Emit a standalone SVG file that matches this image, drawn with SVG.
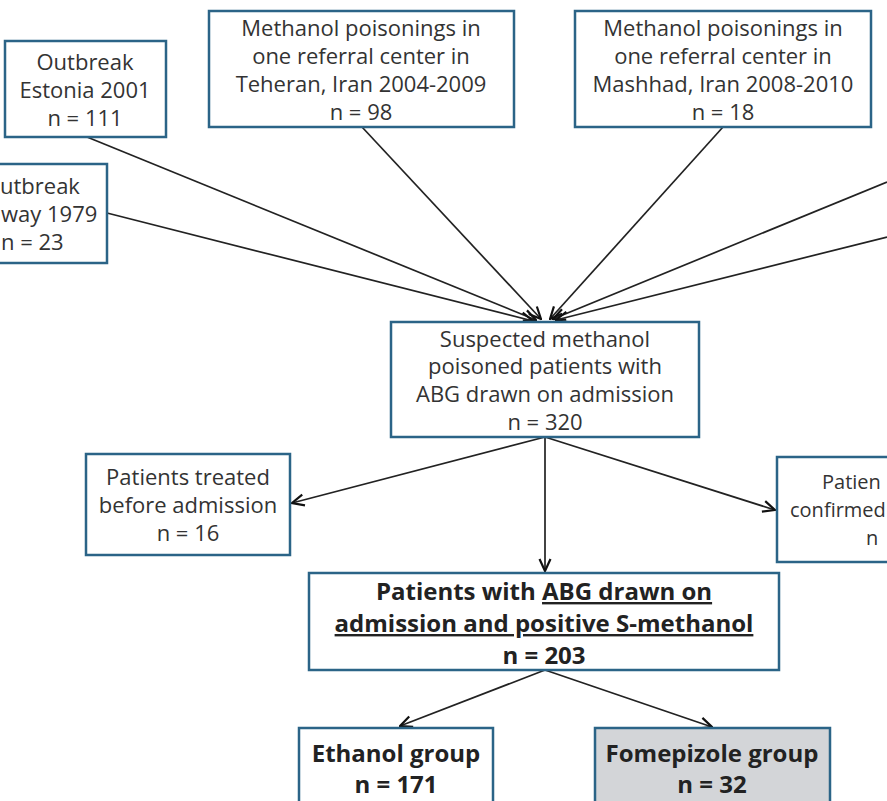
<svg xmlns="http://www.w3.org/2000/svg" width="887" height="801" viewBox="0 0 887 801">
<defs>
<marker id="arr" viewBox="0 0 14 14" refX="13" refY="7" markerWidth="14" markerHeight="14" markerUnits="userSpaceOnUse" orient="auto">
<path d="M1,1.5 L13,7 L1,12.5" fill="none" stroke="#111" stroke-width="2.2"/>
</marker>
<style>
.box{fill:#fff;stroke:#2b6487;stroke-width:2.5}
.gray{fill:#d3d5d8}
.t{font-family:"Open Sans","Liberation Sans",sans-serif;font-size:22px;fill:#333;text-anchor:middle}
.tl{text-anchor:start}
.s{font-size:20px}
.b{font-weight:bold;font-size:24px;fill:#222}
.edge{stroke:#222;stroke-width:1.7;fill:none;marker-end:url(#arr)}
</style>
</defs>
<rect width="887" height="801" fill="#fff"/>
<g id="connectors">
<line class="edge" x1="87" y1="137" x2="536" y2="320"/>
<line class="edge" x1="107" y1="213" x2="533" y2="321"/>
<line class="edge" x1="362" y1="127" x2="541" y2="319"/>
<line class="edge" x1="723" y1="127" x2="550" y2="319"/>
<line class="edge" x1="887" y1="182" x2="553" y2="319"/>
<line class="edge" x1="887" y1="237" x2="556" y2="320"/>
<line class="edge" x1="545" y1="437" x2="292" y2="503"/>
<line class="edge" x1="545" y1="437" x2="775" y2="510"/>
<line class="edge" x1="545" y1="437" x2="545" y2="571"/>
<line class="edge" x1="545" y1="670" x2="400" y2="726"/>
<line class="edge" x1="545" y1="670" x2="712" y2="727"/>
</g>
<g id="estonia">
<rect class="box" x="5" y="41" width="161" height="96"/>
<text class="t" x="85" y="70">Outbreak</text>
<text class="t" x="85" y="98">Estonia 2001</text>
<text class="t" x="85" y="126">n = 111</text>
</g>
<g id="norway">
<rect class="box" x="-60" y="164" width="167" height="99"/>
<text class="t tl" x="0" y="194">utbreak</text>
<text class="t tl" x="1" y="222">way 1979</text>
<text class="t tl" x="1" y="250">n = 23</text>
</g>
<g id="teheran">
<rect class="box" x="209" y="11" width="305" height="116"/>
<text class="t" x="361" y="36">Methanol poisonings in</text>
<text class="t" x="361" y="64">one referral center in</text>
<text class="t" x="361" y="92">Teheran, Iran 2004-2009</text>
<text class="t" x="361" y="120">n = 98</text>
</g>
<g id="mashhad">
<rect class="box" x="575" y="11" width="296" height="116"/>
<text class="t" x="723" y="36">Methanol poisonings in</text>
<text class="t" x="723" y="64">one referral center in</text>
<text class="t" x="723" y="92">Mashhad, Iran 2008-2010</text>
<text class="t" x="723" y="120">n = 18</text>
</g>
<g id="suspected">
<rect class="box" x="391" y="322" width="308" height="115"/>
<text class="t" x="545" y="347">Suspected methanol</text>
<text class="t" x="545" y="374">poisoned patients with</text>
<text class="t" x="545" y="402">ABG drawn on admission</text>
<text class="t" x="545" y="430">n = 320</text>
</g>
<g id="treated">
<rect class="box" x="86" y="454" width="204" height="101"/>
<text class="t" x="188" y="485">Patients treated</text>
<text class="t" x="188" y="513">before admission</text>
<text class="t" x="188" y="541">n = 16</text>
</g>
<g id="notconfirmed">
<rect class="box" x="777" y="457" width="130" height="105"/>
<text class="t tl s" x="822" y="489">Patien</text>
<text class="t tl s" x="790" y="517">confirmed</text>
<text class="t tl s" x="866" y="545">n</text>
</g>
<g id="positive">
<rect class="box" x="309" y="573" width="470" height="97"/>
<text class="t b" x="544" y="600">Patients with <tspan text-decoration="underline">ABG drawn on</tspan></text>
<text class="t b" x="544" y="632" text-decoration="underline">admission and positive S-methanol</text>
<text class="t b" x="544" y="664">n = 203</text>
</g>
<g id="ethanol">
<rect class="box" x="299" y="728" width="194" height="90"/>
<text class="t b" x="396" y="762">Ethanol group</text>
<text class="t b" x="396" y="793">n = 171</text>
</g>
<g id="fomepizole">
<rect class="box gray" x="595" y="728" width="235" height="90"/>
<text class="t b" x="712" y="762">Fomepizole group</text>
<text class="t b" x="712" y="793">n = 32</text>
</g>
</svg>
